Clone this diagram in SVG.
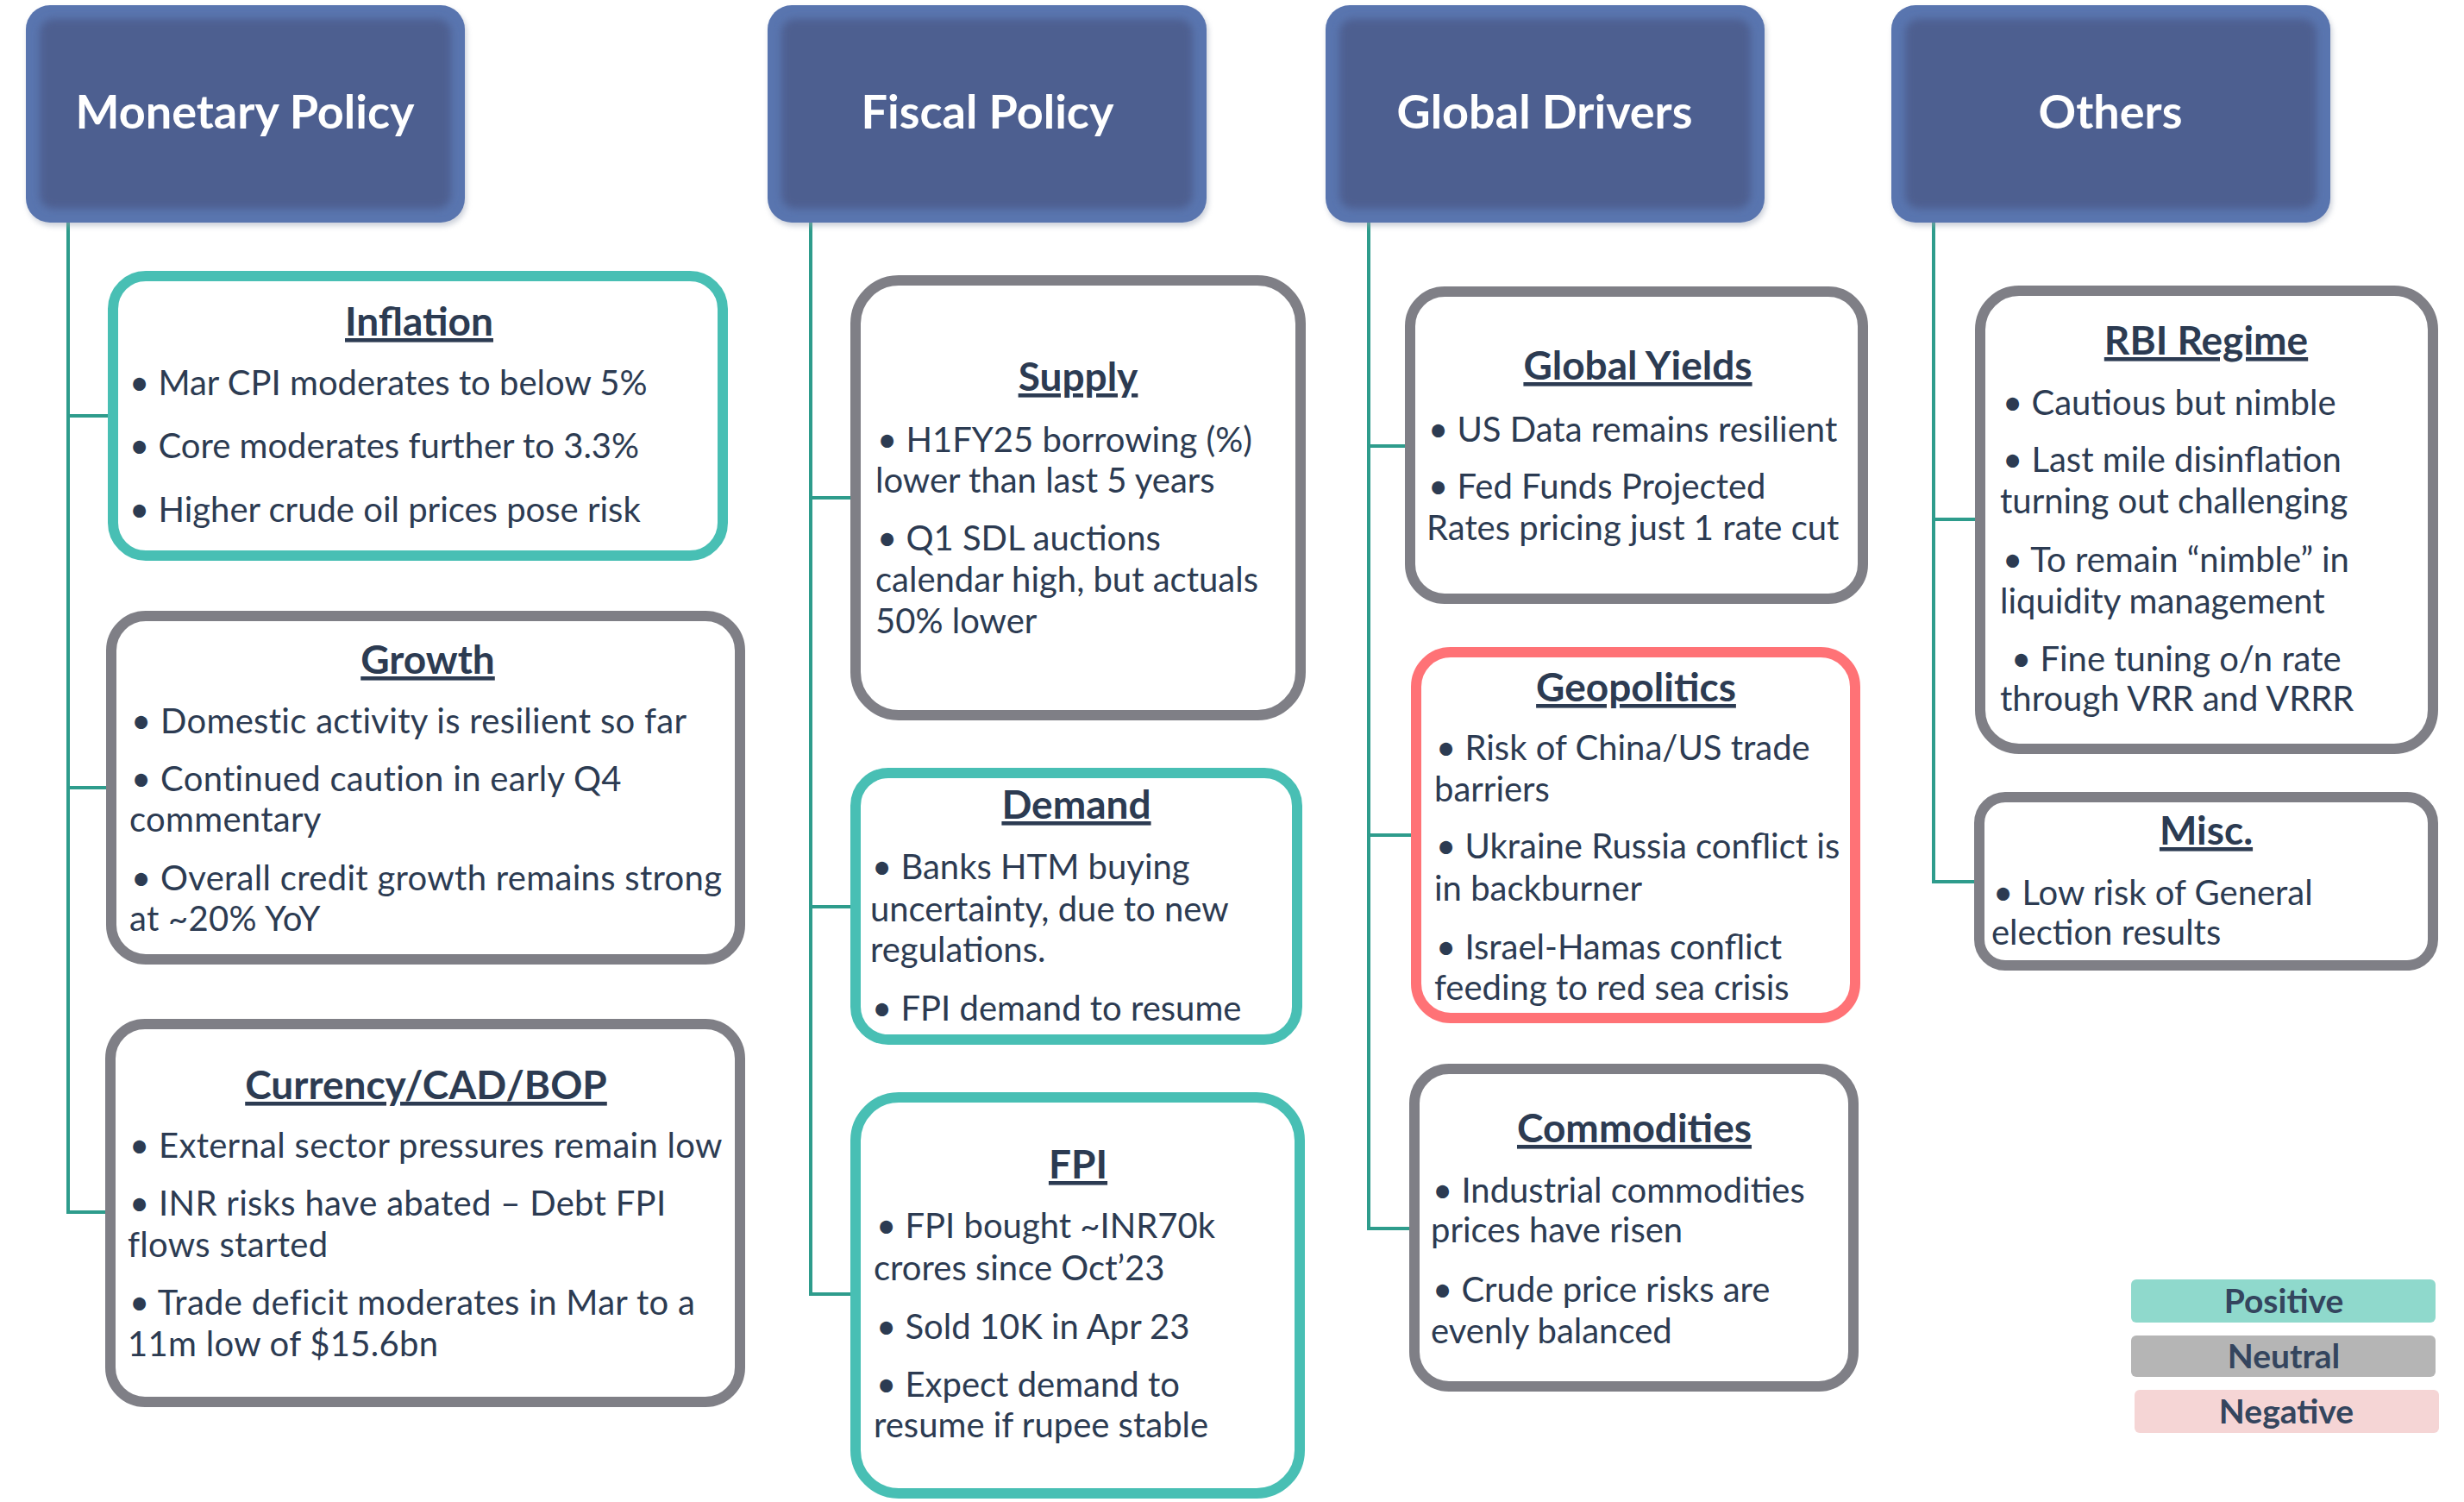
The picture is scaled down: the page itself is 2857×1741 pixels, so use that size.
<svg xmlns="http://www.w3.org/2000/svg" width="2857" height="1741" viewBox="0 0 2857 1741">
<defs>
<filter id="soft" x="-10%" y="-10%" width="120%" height="120%"><feGaussianBlur stdDeviation="5"/></filter>
<filter id="shadow" x="-10%" y="-10%" width="120%" height="130%"><feGaussianBlur stdDeviation="3"/></filter>
<style>
.hout{fill:#5975AF}
.hin{fill:#4E5F90;filter:url(#soft)}
.hsh{fill:#9AA3B5;opacity:0.5;filter:url(#shadow)}
.htext{font-family:Lato,"Liberation Sans",sans-serif;font-weight:700;font-size:54px;fill:#FFFFFF;text-anchor:middle}
.box{fill:#FFFFFF;stroke-width:12}
.pos{stroke:#48BFB4}
.neu{stroke:#7F7F86}
.neg{stroke:#FF7276}
.t{font-family:Lato,"Liberation Sans",sans-serif;font-weight:700;font-size:46px;fill:#2C3B52;text-anchor:middle;text-decoration:underline}
.b{font-family:Lato,"Liberation Sans",sans-serif;font-size:40px;fill:#2C3B52}
.wide{letter-spacing:0.3px}
.conn{stroke:#2E9C8C;stroke-width:4;fill:none}
.lg{font-family:Lato,"Liberation Sans",sans-serif;font-weight:700;font-size:39px;fill:#34455E;text-anchor:middle}
</style>
</defs>
<rect width="2857" height="1741" fill="#FFFFFF"/>

<g id="connectors">
<path class="conn" d="M79 258 V1405 H125 M79 482 H125 M79 913 H125"/>
<path class="conn" d="M940 258 V1500 H988 M940 577 H988 M940 1051 H988"/>
<path class="conn" d="M1587 258 V1424 H1634 M1587 517 H1631 M1587 968 H1638"/>
<path class="conn" d="M2242 258 V1022 H2291 M2242 602 H2292"/>
</g>

<g id="hdr-monetary">
<rect class="hsh" x="32" y="10" width="509" height="252" rx="28"/>
<rect class="hout" x="30" y="6" width="509" height="252" rx="28"/>
<rect class="hin" x="46" y="22" width="477" height="220" rx="16"/>
<text class="htext" x="284" y="149">Monetary Policy</text>
</g>
<g id="hdr-fiscal">
<rect class="hsh" x="892" y="10" width="509" height="252" rx="28"/>
<rect class="hout" x="890" y="6" width="509" height="252" rx="28"/>
<rect class="hin" x="906" y="22" width="477" height="220" rx="16"/>
<text class="htext" x="1145" y="149">Fiscal Policy</text>
</g>
<g id="hdr-global">
<rect class="hsh" x="1539" y="10" width="509" height="252" rx="28"/>
<rect class="hout" x="1537" y="6" width="509" height="252" rx="28"/>
<rect class="hin" x="1553" y="22" width="477" height="220" rx="16"/>
<text class="htext" x="1791" y="149">Global Drivers</text>
</g>
<g id="hdr-others">
<rect class="hsh" x="2195" y="10" width="509" height="252" rx="28"/>
<rect class="hout" x="2193" y="6" width="509" height="252" rx="28"/>
<rect class="hin" x="2209" y="22" width="477" height="220" rx="16"/>
<text class="htext" x="2447" y="149">Others</text>
</g>

<g id="inflation">
<rect class="box pos" x="131" y="320" width="707" height="324" rx="38"/>
<text class="t" x="486" y="389">Inflation</text>
<text class="b" x="150" y="458">• Mar CPI moderates to below 5%</text>
<text class="b" x="150" y="531">• Core moderates further to 3.3%</text>
<text class="b" x="150" y="605">• Higher crude oil prices pose risk</text>
</g>

<g id="growth">
<rect class="box neu" x="129" y="714" width="729" height="398" rx="40"/>
<text class="t" x="496" y="781">Growth</text>
<text class="b wide" x="152" y="850">• Domestic activity is resilient so far</text>
<text class="b wide" x="152" y="917">• Continued caution in early Q4</text>
<text class="b wide" x="150" y="964">commentary</text>
<text class="b wide" x="152" y="1032">• Overall credit growth remains strong</text>
<text class="b wide" x="150" y="1079">at ~20% YoY</text>
</g>

<g id="currency">
<rect class="box neu" x="128" y="1187" width="730" height="438" rx="40"/>
<text class="t" x="494" y="1274">Currency/CAD/BOP</text>
<text class="b wide" x="150" y="1342">• External sector pressures remain low</text>
<text class="b wide" x="150" y="1409">• INR risks have abated – Debt FPI</text>
<text class="b wide" x="148" y="1457">flows started</text>
<text class="b wide" x="150" y="1524">• Trade deficit moderates in Mar to a</text>
<text class="b wide" x="148" y="1572">11m low of $15.6bn</text>
</g>

<g id="supply">
<rect class="box neu" x="992" y="325" width="516" height="504" rx="50"/>
<text class="t" x="1250" y="453">Supply</text>
<text class="b" x="1017" y="524">• H1FY25 borrowing (%)</text>
<text class="b" x="1015" y="571">lower than last 5 years</text>
<text class="b" x="1017" y="638">• Q1 SDL auctions</text>
<text class="b" x="1015" y="686">calendar high, but actuals</text>
<text class="b" x="1015" y="734">50% lower</text>
</g>

<g id="demand">
<rect class="box pos" x="992" y="896" width="512" height="309" rx="38"/>
<text class="t" x="1248" y="949">Demand</text>
<text class="b" x="1011" y="1019">• Banks HTM buying</text>
<text class="b" x="1009" y="1068">uncertainty, due to new</text>
<text class="b" x="1009" y="1115">regulations.</text>
<text class="b" x="1011" y="1183">• FPI demand to resume</text>
</g>

<g id="fpi">
<rect class="box pos" x="992" y="1272" width="515" height="459" rx="50"/>
<text class="t" x="1250" y="1366">FPI</text>
<text class="b" x="1016" y="1435">• FPI bought ~INR70k</text>
<text class="b" x="1013" y="1484">crores since Oct’23</text>
<text class="b" x="1016" y="1552">• Sold 10K in Apr 23</text>
<text class="b" x="1016" y="1619">• Expect demand to</text>
<text class="b" x="1013" y="1666">resume if rupee stable</text>
</g>

<g id="global-yields">
<rect class="box neu" x="1635" y="338" width="525" height="356" rx="40"/>
<text class="t" x="1899" y="440">Global Yields</text>
<text class="b" x="1656" y="512">• US Data remains resilient</text>
<text class="b" x="1656" y="578">• Fed Funds Projected</text>
<text class="b" x="1654" y="626">Rates pricing just 1 rate cut</text>
</g>

<g id="geopolitics">
<rect class="box neg" x="1642" y="756" width="509" height="424" rx="40"/>
<text class="t" x="1897" y="813">Geopolitics</text>
<text class="b" x="1665" y="881">• Risk of China/US trade</text>
<text class="b" x="1663" y="929">barriers</text>
<text class="b" x="1665" y="995">• Ukraine Russia conflict is</text>
<text class="b" x="1663" y="1044">in backburner</text>
<text class="b" x="1665" y="1112">• Israel-Hamas conflict</text>
<text class="b" x="1663" y="1159">feeding to red sea crisis</text>
</g>

<g id="commodities">
<rect class="box neu" x="1640" y="1239" width="509" height="368" rx="40"/>
<text class="t" x="1895" y="1324">Commodities</text>
<text class="b" x="1661" y="1394">• Industrial commodities</text>
<text class="b" x="1659" y="1440">prices have risen</text>
<text class="b" x="1661" y="1509">• Crude price risks are</text>
<text class="b" x="1659" y="1557">evenly balanced</text>
</g>

<g id="rbi-regime">
<rect class="box neu" x="2296" y="337" width="525" height="531" rx="45"/>
<text class="t" x="2558" y="411">RBI Regime</text>
<text class="b" x="2322" y="481">• Cautious but nimble</text>
<text class="b" x="2322" y="547">• Last mile disinflation</text>
<text class="b" x="2319" y="595">turning out challenging</text>
<text class="b" x="2322" y="663">• To remain “nimble” in</text>
<text class="b" x="2319" y="711">liquidity management</text>
<text class="b" x="2332" y="778">• Fine tuning o/n rate</text>
<text class="b" x="2319" y="824">through VRR and VRRR</text>
</g>

<g id="misc">
<rect class="box neu" x="2295" y="924" width="526" height="195" rx="30"/>
<text class="t" x="2558" y="979">Misc.</text>
<text class="b" x="2311" y="1049">• Low risk of General</text>
<text class="b" x="2309" y="1095">election results</text>
</g>

<g id="legend">
<rect x="2471" y="1483" width="353" height="50" rx="6" fill="#8FD9CC"/>
<text class="lg" x="2648" y="1522">Positive</text>
<rect x="2471" y="1548" width="353" height="48" rx="6" fill="#B5B5B5"/>
<text class="lg" x="2648" y="1586">Neutral</text>
<rect x="2475" y="1611" width="353" height="50" rx="6" fill="#F5D5D5"/>
<text class="lg" x="2651" y="1650">Negative</text>
</g>
</svg>
